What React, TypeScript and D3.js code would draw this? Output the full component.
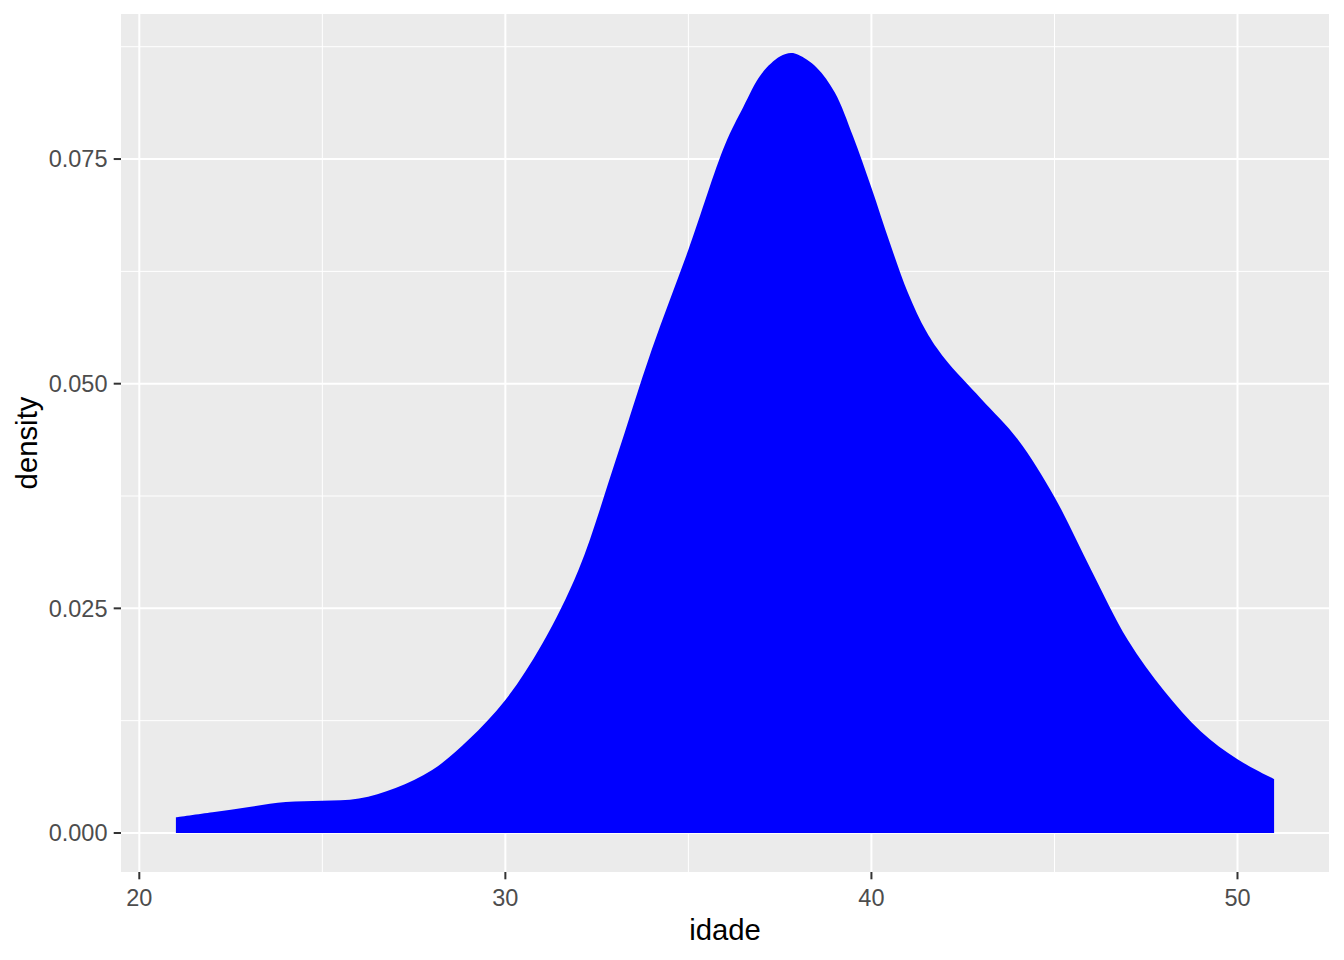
import { FC } from "react";
import * as d3 from "d3";

const WIDTH = 1344;
const HEIGHT = 960;

// panel box (ggplot2 theme_grey look)
const PANEL = { left: 121, top: 14, right: 1329, bottom: 872 };

const idade = [
  21, 22, 23, 24, 25, 26, 27, 28, 29, 30, 31, 32, 33, 34, 35, 36, 36.5, 37,
  37.5, 37.8, 38, 38.5, 39, 39.5, 40, 40.5, 41, 41.5, 42, 43, 44, 45, 46, 47,
  48, 49, 50, 51,
];
const density = [
  0.00174, 0.0023, 0.0029, 0.00345, 0.00358, 0.00383, 0.005, 0.007, 0.0104,
  0.0148, 0.021, 0.0293, 0.0413, 0.0538, 0.0649, 0.0766, 0.0808, 0.0845,
  0.0864, 0.0868, 0.0866, 0.0852, 0.0824, 0.0775, 0.0718, 0.0657, 0.0601,
  0.0558, 0.0528, 0.0483, 0.0438, 0.0374, 0.0293, 0.0215, 0.0158, 0.0113,
  0.0082, 0.006,
];

const xTicks = [20, 30, 40, 50];
const xMinor = [25, 35, 45];
const yTicks = [0, 0.025, 0.05, 0.075];
const yMinor = [0.0125, 0.0375, 0.0625, 0.0875];

const App: FC = () => {
  const xMin = d3.min(idade)!;
  const xMax = d3.max(idade)!;
  const yMax = d3.max(density)!;
  const xPad = (xMax - xMin) * 0.05;

  const x = d3
    .scaleLinear()
    .domain([xMin - xPad, xMax + xPad])
    .range([PANEL.left, PANEL.right]);
  const y = d3
    .scaleLinear()
    .domain([-yMax * 0.05, yMax * 1.05])
    .range([PANEL.bottom, PANEL.top]);

  const points = idade.map((v, i) => [v, density[i]] as [number, number]);
  const area = d3
    .area<[number, number]>()
    .x((d) => x(d[0]))
    .y0(y(0))
    .y1((d) => y(d[1]))
    .curve(d3.curveCatmullRom.alpha(0.5));

  const tickFont = "'Liberation Sans', Arial, sans-serif";

  return (
    <svg
      width={WIDTH}
      height={HEIGHT}
      style={{ position: "absolute", left: 0, top: 0, background: "#fff" }}
    >
      <rect
        x={PANEL.left}
        y={PANEL.top}
        width={PANEL.right - PANEL.left}
        height={PANEL.bottom - PANEL.top}
        fill="#EBEBEB"
      />
      {/* minor grid */}
      {xMinor.map((t) => (
        <line key={"xm" + t} x1={x(t)} x2={x(t)} y1={PANEL.top} y2={PANEL.bottom} stroke="#fff" strokeWidth={1} />
      ))}
      {yMinor.map((t) => (
        <line key={"ym" + t} x1={PANEL.left} x2={PANEL.right} y1={y(t)} y2={y(t)} stroke="#fff" strokeWidth={1} />
      ))}
      {/* major grid */}
      {xTicks.map((t) => (
        <line key={"xg" + t} x1={x(t)} x2={x(t)} y1={PANEL.top} y2={PANEL.bottom} stroke="#fff" strokeWidth={2} />
      ))}
      {yTicks.map((t) => (
        <line key={"yg" + t} x1={PANEL.left} x2={PANEL.right} y1={y(t)} y2={y(t)} stroke="#fff" strokeWidth={2} />
      ))}

      <path d={area(points) ?? ""} fill="#0000FF" />

      {/* x axis */}
      {xTicks.map((t) => (
        <g key={"xt" + t}>
          <line x1={x(t)} x2={x(t)} y1={PANEL.bottom} y2={PANEL.bottom + 7.3} stroke="#333333" strokeWidth={2} />
          <text
            x={x(t)}
            y={906}
            textAnchor="middle"
            fontFamily={tickFont}
            fontSize={23.5}
            fill="#4D4D4D"
          >
            {t}
          </text>
        </g>
      ))}
      {/* y axis */}
      {yTicks.map((t) => (
        <g key={"yt" + t}>
          <line x1={PANEL.left - 7.3} x2={PANEL.left} y1={y(t)} y2={y(t)} stroke="#333333" strokeWidth={2} />
          <text
            x={107.5}
            y={y(t)}
            dy="0.35em"
            textAnchor="end"
            fontFamily={tickFont}
            fontSize={23.5}
            fill="#4D4D4D"
          >
            {d3.format(".3f")(t)}
          </text>
        </g>
      ))}

      <text
        x={(PANEL.left + PANEL.right) / 2}
        y={940}
        textAnchor="middle"
        fontFamily={tickFont}
        fontSize={29.3}
        fill="#000"
      >
        idade
      </text>
      <text
        transform={`translate(37,${(PANEL.top + PANEL.bottom) / 2}) rotate(-90)`}
        textAnchor="middle"
        fontFamily={tickFont}
        fontSize={29.3}
        fill="#000"
      >
        density
      </text>
    </svg>
  );
};

export default App;
